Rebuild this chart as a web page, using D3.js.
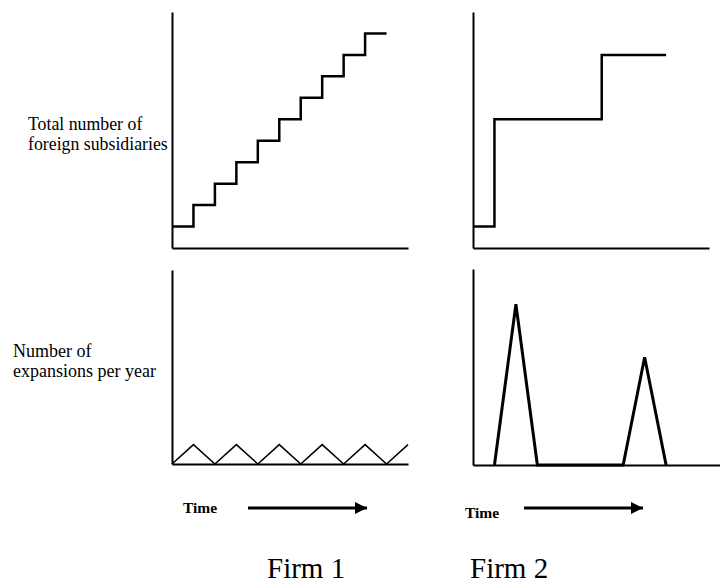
<!DOCTYPE html>
<html>
<head>
<meta charset="utf-8">
<script src="https://cdn.jsdelivr.net/npm/d3@7"></script>
<style>
  body { margin: 0; background: #fff; }
  text { font-family: "Liberation Serif", "Times New Roman", serif; fill: #000; }
</style>
</head>
<body>
<div id="chart"></div>
<script>
// time points and levels
const firm1TotalTime = [0, 1, 2, 3, 4, 5, 6, 7, 8, 9, 10];
const firm1TotalCount = [1, 2, 3, 4, 5, 6, 7, 8, 9, 10, 10];
const firm2TotalTime = [0, 1, 6, 9];
const firm2TotalCount = [1, 6, 9, 9];
const firm1ExpTime = [0, 1, 2, 3, 4, 5, 6, 7, 8, 9, 10, 11];
const firm1ExpCount = [0, 1, 0, 1, 0, 1, 0, 1, 0, 1, 0, 1];
const firm2ExpTime = [1, 2, 3, 7, 8, 9];
const firm2ExpCount = [0, 8.2, 0, 0, 5.5, 0];
const rowLabels = [["Total number of", "foreign subsidiaries"], ["Number of", "expansions per year"]];
const firmLabels = ["Firm 1", "Firm 2"];

const width = 720, height = 585;

const svg = d3.select("#chart")
    .append("svg")
    .attr("width", width)
    .attr("height", height);

// one panel = its own scales + bare axes
function panel(left, right, top, bottom, xMax, yMax) {
    const x = d3.scaleLinear().domain([0, xMax]).range([left, right]);
    const y = d3.scaleLinear().domain([0, yMax]).range([bottom, top]);
    const g = svg.append("g");
    g.append("g")
        .attr("transform", "translate(0," + bottom + ")")
        .call(d3.axisBottom(x).tickValues([]).tickSizeOuter(0));
    g.append("g")
        .attr("transform", "translate(" + left + ",0)")
        .call(d3.axisLeft(y).tickValues([]).tickSizeOuter(0));
    g.selectAll(".domain").attr("stroke", "#000").attr("stroke-width", 2);
    return {g: g, x: x, y: y};
}

function drawLine(p, xs, ys, curve, w) {
    const pts = xs.map((d, i) => [d, ys[i]]);
    p.g.append("path")
        .datum(pts)
        .attr("fill", "none")
        .attr("stroke", "#000")
        .attr("stroke-width", w)
        .attr("stroke-linejoin", "miter")
        .attr("d", d3.line().x(d => p.x(d[0])).y(d => p.y(d[1])).curve(curve));
}

const p1 = panel(172, 408, 12, 248, 11, 11);
const p2 = panel(473, 709, 12, 248, 11, 11);
const p3 = panel(172, 408, 270, 464, 11, 10);
const p4 = panel(473, 720, 269, 465, (720 - 473) / (236 / 11), 10);

drawLine(p1, firm1TotalTime, firm1TotalCount, d3.curveStepAfter, 2.5);
drawLine(p2, firm2TotalTime, firm2TotalCount, d3.curveStepAfter, 2.5);
drawLine(p3, firm1ExpTime, firm1ExpCount, d3.curveLinear, 1.5);
drawLine(p4, firm2ExpTime, firm2ExpCount, d3.curveLinear, 3);

// row labels
svg.append("text").attr("x", 28).attr("y", 130).style("font-size", "17.8px")
    .selectAll("tspan").data(rowLabels[0]).enter().append("tspan")
    .attr("x", 28).attr("dy", (d, i) => i === 0 ? 0 : 20).text(d => d);
svg.append("text").attr("x", 13).attr("y", 357).style("font-size", "18px")
    .selectAll("tspan").data(rowLabels[1]).enter().append("tspan")
    .attr("x", 13).attr("dy", (d, i) => i === 0 ? 0 : 20).text(d => d);

// time arrows
const defs = svg.append("defs");
defs.append("marker")
    .attr("id", "head")
    .attr("viewBox", "0 0 10 10")
    .attr("refX", 10).attr("refY", 5)
    .attr("markerWidth", 6).attr("markerHeight", 4)
    .attr("markerUnits", "strokeWidth")
    .attr("orient", "auto")
    .append("path").attr("d", "M0,0L10,5L0,10Z").attr("fill", "#000");

[[183, 513, 248, 367], [465, 518, 524, 643]].forEach(a => {
    svg.append("text").attr("x", a[0]).attr("y", a[1])
        .style("font-size", "15.5px").style("font-weight", "bold").text("Time");
    svg.append("line")
        .attr("x1", a[2]).attr("x2", a[3]).attr("y1", 508).attr("y2", 508)
        .attr("stroke", "#000").attr("stroke-width", 3)
        .attr("marker-end", "url(#head)");
});

// firm captions
svg.selectAll(".firm")
    .data(firmLabels)
    .enter()
    .append("text")
    .attr("class", "firm")
    .attr("x", (d, i) => i === 0 ? 267 : 470)
    .attr("y", 578)
    .style("font-size", "29px")
    .text(d => d);
</script>
</body>
</html>
